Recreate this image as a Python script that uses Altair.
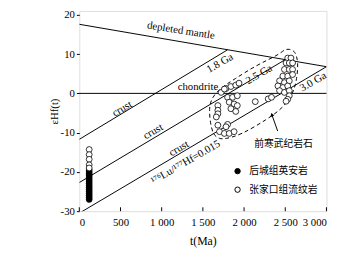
import altair as alt
import pandas as pd

SERIF = "Liberation Serif"
CJK = "Noto Sans CJK SC"

# ---- axis ticks ----
x_ticks = [0, 500, 1000, 1500, 2000, 2500, 3000]
y_ticks = [20, 10, 0, -10, -20, -30]

# ---- reference lines ----
dm_t = [0, 3000]
dm_e = [17.6, 6.8]
crust_t = [1800, 2500, 3000]
crust_start_e = [11.1, 8.6, 6.8]
crust_end_e = [-11.7, -22.7, -30.5]

# ---- data: 后城组英安岩 (filled) ----
hc_t = [120] * 16
hc_e = [-19.5, -20, -20.5, -21, -21.5, -22, -22.5, -23, -23.5, -24,
        -24.5, -25, -25.5, -26, -26.5, -27]

# ---- data: 张家口组流纹岩 (open) ----
zjk_t = [120, 120, 120, 120, 120,
         1781, 1840, 1899, 1939, 1722, 1761,
         1800, 1860, 1918, 1820, 1879, 1918,
         1840, 1899, 1682, 1682, 1682, 1663, 1682,
         1800, 1781, 1702, 1761, 1820, 1879,
         2136, 2293, 2333,
         2530, 2569, 2510, 2549, 2589, 2490, 2549, 2589,
         2471, 2530, 2589, 2431, 2490, 2549, 2411, 2471, 2530,
         2431, 2490, 2549, 2549, 2530, 2510]
zjk_e = [-14.3, -15.6, -16.8, -18.2, -19.0,
         1.25, 1.75, 2.1, 2.6, 0.25, 1.1,
         -1.0, -1.0, -0.6, -2.25, -2.7, -3.1,
         -3.9, -4.6, -3.1, -4.3, -5.2, -6.0, -8.1,
         -7.9, -8.5, -9.75, -10.2, -10.2, -9.75,
         -2.1, -1.4, -1.0,
         9.0, 9.0, 7.75, 7.75, 7.75, 6.1, 6.1, 6.1,
         4.4, 4.4, 4.8, 3.2, 2.75, 3.2, 1.9, 1.5, 1.9,
         0.7, 0.25, 0.7, -0.6, -1.5, -2.0]

# ---- dashed envelope around Precambrian zircons ----
env_t = [1590, 1625, 1700, 1770, 1960, 2280, 2480, 2600, 2640, 2660, 2620,
         2550, 2490, 2420, 2150, 1875, 1715, 1600, 1575]
env_e = [-7.5, -10.6, -11.6, -11.6, -10.6, -6.6, -3.6, 0.2, 3.6, 8.0, 10.8,
         11.3, 11.2, 9.8, 7.2, 3.5, 1.4, -1.3, -4.0]

# ---- text labels ----
lbl_text = ["depleted mantle", "1.8 Ga", "chondrite", "2.5 Ga", "3.0 Ga",
            "crust", "crust", "crust", "¹⁷⁶Lu/¹⁷⁷Hf=0.015"]
lbl_t = [1234, 1708, 1440, 2183, 2840, 522, 898, 1210, 1293]
lbl_e = [15.95, 7.64, 1.6, 4.76, 2.9, -3.95, -9.77, -14.07, -17.6]
lbl_ang = [9, 330, 0, 330, 330, 330, 330, 330, 330]

cn_label = "前寒武纪岩石"
cn_t = [2479]
cn_e = [-12.8]
arrow_t = [2408, 2337]
arrow_e = [-9.6, -5.4]

groups = ["后城组英安岩", "张家口组流纹岩"]

W, H = 253, 205

xs = alt.Scale(domain=[0, 3000], nice=False, zero=False)
ys = alt.Scale(domain=[-30, 21], nice=False, zero=False)

x_axis = alt.Axis(values=x_ticks, title="t(Ma)", grid=False, ticks=False,
                  labelPadding=6, domain=False,
                  labelExpr="replace(format(datum.value, ',d'), ',', ' ')",
                  labelFont=SERIF, labelFontSize=11, labelColor="black",
                  titleFont=SERIF, titleFontSize=12, titleFontWeight="normal",
                  titleColor="black", titlePadding=8)
y_axis = alt.Axis(values=y_ticks, title="εHf(t)", grid=False, tickSize=3,
                  tickColor="black", domain=False, labelPadding=2,
                  labelExpr="datum.value < 0 ? '-' + abs(datum.value) : '' + datum.value",
                  labelFont=SERIF, labelFontSize=11, labelColor="black",
                  titleFont=SERIF, titleFontSize=11, titleFontWeight="normal",
                  titleColor="black", titlePadding=1)

X = alt.X("t:Q", scale=xs, axis=x_axis)
Y = alt.Y("e:Q", scale=ys, axis=y_axis)

# lines
dm_df = pd.DataFrame({"t": dm_t, "e": dm_e})
dm = alt.Chart(dm_df).mark_line(color="black", strokeWidth=1, clip=True).encode(x=X, y=Y)

crust_rows = []
for i in range(len(crust_t)):
    crust_rows.append({"t": crust_t[i], "e": crust_start_e[i], "g": i})
    crust_rows.append({"t": 0, "e": crust_end_e[i], "g": i})
crust = alt.Chart(pd.DataFrame(crust_rows)).mark_line(
    color="black", strokeWidth=1, clip=True).encode(x=X, y=Y, detail="g:N")

chon = alt.Chart(pd.DataFrame({"e": [0]})).mark_rule(color="black", strokeWidth=1).encode(y=Y)

env_df = pd.DataFrame({"t": env_t, "e": env_e, "i": list(range(len(env_t)))})
env = alt.Chart(env_df).mark_line(color="black", strokeWidth=1, strokeDash=[4, 3],
                                  interpolate="basis-closed").encode(
    x=X, y=Y, order="i:Q")

# x ticks inward
xt = alt.Chart(pd.DataFrame({"t": x_ticks})).mark_rule(color="black", strokeWidth=1).encode(
    x=X, y=alt.value(H), y2=alt.value(H - 4))

# points
pts_df = pd.DataFrame({
    "t": hc_t + zjk_t,
    "e": hc_e + zjk_e,
    "group": [groups[0]] * len(hc_t) + [groups[1]] * len(zjk_t),
})
pts = alt.Chart(pts_df).mark_point(filled=True, stroke="black", strokeWidth=0.8,
                                   size=36, opacity=1, shape="circle").encode(
    x=X, y=Y,
    fill=alt.Fill("group:N", scale=alt.Scale(domain=groups, range=["black", "white"]),
                  legend=alt.Legend(title=None, orient="none", legendX=157, legendY=159,
                                    symbolType="circle", symbolStrokeColor="black",
                                    symbolStrokeWidth=1, symbolSize=30, padding=0,
                                    labelFont=CJK, labelFontSize=10, labelColor="black",
                                    rowPadding=9, labelOffset=7)),
)

# labels
lbl_df = pd.DataFrame({"t": lbl_t, "e": lbl_e, "label": lbl_text, "ang": lbl_ang})
lbl = alt.Chart(lbl_df).mark_text(font=SERIF, fontSize=11, color="black",
                                  align="center", baseline="middle").encode(
    x=X, y=Y, text="label:N", angle=alt.Angle("ang:Q", scale=None))

cn = alt.Chart(pd.DataFrame({"t": cn_t, "e": cn_e, "label": [cn_label]})).mark_text(
    font=CJK, fontSize=10, color="black", align="center", baseline="middle").encode(
    x=X, y=Y, text="label:N")

arr_df = pd.DataFrame({"t": arrow_t, "e": arrow_e, "i": [0, 1]})
arr = alt.Chart(arr_df).mark_line(color="black", strokeWidth=1).encode(x=X, y=Y, order="i:Q")
head = alt.Chart(arr_df.iloc[[1]]).mark_point(shape="triangle-up", filled=True, color="black",
                                              size=18, angle=340, opacity=1).encode(x=X, y=Y)

chart = alt.layer(dm, crust, chon, env, xt, arr, head, lbl, cn, pts).properties(
    width=W, height=H,
    autosize=alt.AutoSizeParams(type="none"),
    padding={"left": 73, "top": 0, "right": 19, "bottom": 48},
).configure_view(stroke="black", strokeWidth=1).configure(background="white")

chart.save("out.html", embed_options={"renderer": "svg", "actions": False})
